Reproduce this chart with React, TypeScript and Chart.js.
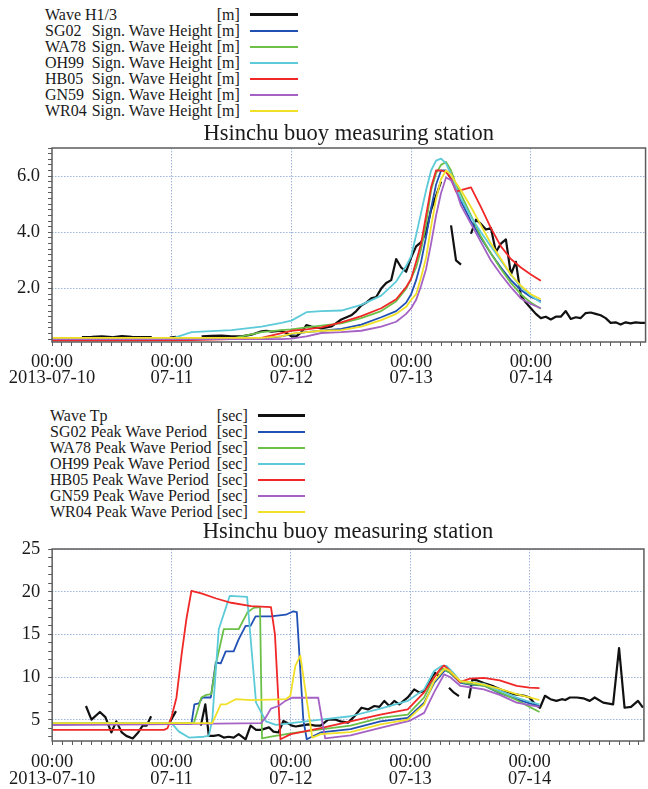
import React, { useEffect, useRef } from 'react';
import { Chart, registerables } from 'chart.js';

Chart.register(...registerables);

const SERIF = '"Liberation Serif", "Times New Roman", Times, serif';
const INK = '#1a1a1a';
const FRAME = '#5c5c5c';
const GRID = '#9fb5de';

// Time axis: hours counted from 2013-07-10 00:00
const HOUR_MAX = 119;
const DAY_TIME = '00:00';
const DAY_NAMES = ['2013-07-10', '07-11', '07-12', '07-13', '07-14'];

const STATION_TITLE = 'Hsinchu buoy measuring station';
const MODEL_IDS = ['SG02', 'WA78', 'OH99', 'HB05', 'GN59', 'WR04'];
const MODEL_COLORS = ['#2050b4', '#6cc048', '#5ccad8', '#f02828', '#a462c4', '#f0e028'];
const OBS_COLOR = '#111111';

// ---------- Significant wave height [m] ----------
const HEIGHT_LABELS = [2, 4, 6];

const heightHours = [0, 12, 24, 28, 36, 42, 46, 48, 51, 54, 58, 62, 66, 69, 71, 72, 73, 74, 75, 76, 77, 78, 79, 80, 81, 82, 84, 86, 88, 90, 92, 94, 96, 98];
const sg02Height = [0.2, 0.2, 0.2, 0.2, 0.2, 0.22, 0.3, 0.38, 0.45, 0.5, 0.57, 0.72, 0.98, 1.2, 1.5, 1.8, 2.3, 2.95, 3.85, 4.85, 5.7, 6.2, 6.2, 5.9, 5.5, 5.1, 4.4, 3.8, 3.25, 2.75, 2.3, 1.95, 1.7, 1.55];
const wa78Height = [0.2, 0.2, 0.2, 0.2, 0.22, 0.45, 0.52, 0.55, 0.62, 0.68, 0.76, 0.95, 1.2, 1.55, 2.0, 2.35, 2.75, 3.4, 4.3, 5.5, 6.1, 6.4, 6.5, 6.2, 5.7, 5.35, 4.6, 3.85, 3.25, 2.7, 2.2, 1.8, 1.5, 1.28];
const oh99Height = [0.2, 0.2, 0.22, 0.45, 0.52, 0.65, 0.78, 0.86, 1.16, 1.2, 1.22, 1.42, 1.75, 2.25, 2.8, 3.15, 3.9, 4.7, 5.5, 6.2, 6.55, 6.62, 6.45, 6.05, 5.6, 5.2, 4.55, 4.0, 3.5, 3.0, 2.5, 2.05, 1.75, 1.5];
const hb05Height = [0.15, 0.15, 0.16, 0.17, 0.2, 0.25, 0.42, 0.5, 0.55, 0.62, 0.8, 1.02, 1.3, 1.62, 2.05, 2.35, 2.95, 3.6, 4.6, 5.6, 6.2, 6.2, 6.15, 5.9, 5.45, 5.5, 5.6, 4.9, 4.15, 3.5, 3.05, 2.75, 2.5, 2.28];
const gn59Height = [0.2, 0.2, 0.2, 0.2, 0.2, 0.2, 0.2, 0.22, 0.3, 0.42, 0.45, 0.5, 0.65, 0.82, 1.1, 1.3, 1.6, 2.1, 2.7, 3.6, 4.6, 5.4, 5.95, 5.85, 5.5, 4.95, 4.3, 3.65, 3.0, 2.5, 2.05, 1.65, 1.45, 1.3];
const wr04Height = [0.25, 0.25, 0.25, 0.25, 0.25, 0.25, 0.3, 0.4, 0.45, 0.5, 0.52, 0.65, 0.88, 1.1, 1.35, 1.6, 1.8, 2.4, 3.1, 4.2, 5.2, 5.9, 6.2, 6.05, 5.75, 5.5, 4.9, 4.25, 3.6, 3.05, 2.5, 2.1, 1.8, 1.62];

const obsHeightHours = [
  6, 8, 10, 12, 14, 16, 18, 20, 21, 23.6, 24.9, 26, 30, 32, 34, 36, 38, 40, 42, 43, 44, 46, 47, 48, 49, 50, 51, 52, 54, 56, 58, 60,
  61, 62, 63, 64, 65, 66, 67, 68, 69, 70, 71, 72, 73, 74, 75, 76, 77, 78, 79, 80, 81, 82, 83, 84, 85, 86, 87, 88, 89, 90,
  91, 92, 93, 94, 95, 96, 97, 98, 99, 100, 101, 102, 103, 104, 105, 106, 107, 108, 109, 110, 111, 112, 113, 114, 115, 116, 117, 118, 119,
];
const obsHeight: (number | null)[] = [
  0.27, 0.28, 0.3, 0.27, 0.31, 0.28, 0.27, 0.27, null, 0.26, 0.28, null, 0.3, 0.32, 0.33, 0.3, 0.3, 0.36, 0.48, 0.5, 0.47, 0.5, 0.42, 0.3, 0.3, 0.45, 0.7, 0.65, 0.58, 0.65, 0.9, 1.05,
  1.2, 1.4, 1.5, 1.65, 1.7, 2.0, 2.2, 2.3, 3.05, 2.75, 2.6, 3.1, 3.5, 3.65, 4.0, 4.8, 5.3, 5.8, null, 4.25, 3.0, 2.85, null, 3.95, 4.45, 4.3, 4.1, 4.15, 3.3, 3.6,
  3.75, 2.5, 2.95, 1.75, 1.5, 1.3, 1.1, 0.95, 1.0, 0.9, 1.0, 1.0, 1.2, 0.92, 0.98, 0.95, 1.13, 1.15, 1.1, 1.05, 0.95, 0.78, 0.8, 0.72, 0.8, 0.76, 0.8, 0.78, 0.78,
];

// ---------- Peak wave period [sec] ----------
const PERIOD_LABELS = [5, 10, 15, 20, 25];

const sg02PeriodHours = [0, 28, 28.6, 29.5, 30.2, 31.9, 32.9, 33.9, 34.9, 36.5, 37.5, 38.9, 39.9, 40.9, 44, 47, 48.5, 49.2, 50.5, 51.2, 54, 60, 66, 71.5, 74.8, 76.8, 79, 80, 82.1, 84, 86.8, 90, 93.4, 96, 98];
const sg02Period = [4.5, 4.5, 6.8, 6.9, 7.6, 7.6, 11.7, 11.6, 13.0, 13.0, 14.4, 16.0, 16.0, 17.1, 17.1, 17.3, 17.7, 17.6, 5.0, 2.7, 3.5, 3.9, 4.8, 5.2, 7.0, 9.3, 10.8, 10.5, 9.3, 9.1, 9.0, 8.1, 7.4, 6.9, 6.6];

const wa78PeriodHours = [0, 28.5, 30, 31, 32, 33, 34.5, 37.5, 39.3, 40.5, 41.8, 42.2, 44, 48, 54, 60, 66, 71.5, 74.8, 76.8, 78.5, 80, 82.1, 84, 86.8, 90, 93.4, 96, 98];
const wa78Period = [4.6, 4.6, 7.6, 7.9, 8.0, 11.7, 15.6, 15.6, 17.6, 18.1, 18.2, 2.8, 3.0, 3.4, 3.85, 4.3, 5.2, 5.6, 7.6, 10.0, 11.0, 10.5, 9.4, 9.2, 9.0, 8.2, 7.3, 6.5, 5.9];

const oh99PeriodHours = [0, 24, 25.5, 27.5, 30.5, 31.5, 32.2, 33.5, 35.7, 39.2, 41, 43, 45, 48, 54, 60, 66, 71.5, 74.8, 76.8, 78.3, 79.3, 80.5, 82.1, 84, 86.8, 90, 93.4, 96, 98];
const oh99Period = [4.6, 4.6, 3.6, 2.9, 3.0, 3.1, 5.0, 15.6, 19.5, 19.4, 7.0, 4.8, 4.4, 4.6, 5.0, 5.4, 6.3, 7.2, 8.55, 10.7, 11.3, 11.3, 10.6, 9.5, 9.4, 9.2, 8.4, 7.6, 7.1, 6.8];

const hb05PeriodHours = [0, 22.5, 23.2, 24, 25, 26, 27, 28, 30, 33, 36, 40, 44, 44.8, 45.9, 48, 54, 60, 66, 71.5, 73, 74.8, 76, 77, 78, 78.8, 80, 82, 84, 86.8, 90, 93.4, 96, 98];
const hb05Period = [3.8, 3.8, 4.0, 5.3, 7.6, 12.5, 16.8, 20.1, 19.8, 19.2, 18.7, 18.3, 18.2, 15.0, 2.7, 3.3, 4.0, 4.8, 5.6, 6.2, 7.1, 8.2, 9.3, 10.1, 10.9, 11.35, 10.7, 9.4, 9.8, 9.9, 9.6, 8.95, 8.75, 8.7];

const gn59PeriodHours = [0, 20, 42, 43, 44, 45.5, 46.9, 48.2, 53.5, 54.9, 60, 66, 72, 74.8, 76.8, 78.8, 80, 82.1, 84, 86.8, 90, 93.4, 96, 98];
const gn59Period = [4.35, 4.45, 4.6, 5.3, 6.3, 6.6, 7.2, 7.57, 7.57, 2.8, 3.15, 4.05, 4.9, 5.8, 8.2, 10.3, 10.0, 8.95, 8.8, 8.55, 7.9, 7.0, 6.7, 6.5];

const wr04PeriodHours = [0, 32.2, 33.9, 35, 36.9, 40, 44, 47, 47.9, 48.9, 49.9, 52.3, 54, 60, 66, 71.5, 74.8, 76.8, 79, 80, 82.1, 84, 86.8, 90, 93.4, 96, 98];
const wr04Period = [4.6, 4.6, 6.8, 6.8, 7.4, 7.3, 7.35, 7.4, 7.8, 11.3, 12.5, 2.9, 3.3, 3.55, 4.45, 5.0, 6.8, 9.5, 11.0, 10.7, 9.5, 9.4, 9.1, 8.6, 8.0, 7.6, 7.3];

const obsPeriodHours = [
  6.8, 7.9, 9.6, 10.7, 11.9, 12.9, 14, 14.9, 16.2, 17.3, 18.2, 19, 19.9, 20.5, 23.6, 24.9, 26, 29.9, 30.8, 31.5,
  32.5, 33.5, 34.5, 35.5, 36.5, 37.5, 38.9, 39.9, 41, 42, 43.6, 44.5, 45.5, 46.5, 47.3, 48.2, 49, 50, 51.5, 52.9,
  54, 55.5, 57, 58, 59.5, 60.8, 62.2, 63.5, 64.8, 65.8, 66.8, 67.8, 68.8, 69.8, 71.5, 72.8, 73.8, 74.8, 76, 77,
  78, 79, 79.8, 80.8, 81.8, 83, 83.8, 84.5, 85.5, 86.8, 88.8, 90.8, 92.8, 95, 96, 97.1, 98.1, 99.1, 100.2, 101.4,
  102.5, 103.2, 104.1, 105.5, 106.8, 108.1, 109.1, 110.8, 112.8, 114, 115.1, 116.4, 117.8, 118.8,
];
const obsPeriod: (number | null)[] = [
  6.6, 5.0, 5.9, 5.3, 3.5, 4.8, 3.5, 3.1, 2.8, 3.5, 4.3, 4.3, 5.4, null, 4.65, 6.0, null, 4.3, 6.8, 3.1,
  3.1, 3.2, 2.9, 3.0, 2.9, 3.3, 2.7, 4.3, 3.8, 3.8, 4.1, 3.6, 3.5, 4.85, 4.6, 4.3, 4.2, 4.3, 4.45, 4.3,
  4.3, 5.0, 5.0, 4.8, 4.65, 5.4, 6.4, 6.2, 6.6, 6.5, 7.2, 6.6, 7.2, 6.8, 7.6, 8.55, 8.2, 8.35, 9.5, 10.5,
  10.0, null, 8.74, 8.16, 7.76, null, 7.5, 9.7, 9.6, 9.3, 8.9, 8.4, 8.0, 7.8, 7.6, 6.8, 6.4, 7.8, 7.4, 7.2,
  7.4, 7.3, 7.6, 7.6, 7.5, 7.2, 7.6, 7.0, 6.8, 13.4, 6.4, 6.5, 7.2, 6.4,
];

type Series = {
  label: string;
  color: string;
  width: number;
  order: number;
  hours: number[];
  values: (number | null)[];
};

const OBS_WIDTH = 2.2;
const MODEL_WIDTH = 1.8;

function modelSeries(hoursList: number[][], valueList: number[][], suffix: string): Series[] {
  return MODEL_IDS.map((id, i) => ({
    label: `${id} ${suffix}`,
    color: MODEL_COLORS[i],
    width: MODEL_WIDTH,
    order: MODEL_IDS.length - 1 - i,
    hours: hoursList[i],
    values: valueList[i],
  }));
}

const heightSeries: Series[] = [
  { label: 'Wave H1/3', color: OBS_COLOR, width: OBS_WIDTH, order: 10, hours: obsHeightHours, values: obsHeight },
  ...modelSeries(
    MODEL_IDS.map(() => heightHours),
    [sg02Height, wa78Height, oh99Height, hb05Height, gn59Height, wr04Height],
    'Sign. Wave Height',
  ),
];

const periodSeries: Series[] = [
  { label: 'Wave Tp', color: OBS_COLOR, width: OBS_WIDTH, order: 10, hours: obsPeriodHours, values: obsPeriod },
  ...modelSeries(
    [sg02PeriodHours, wa78PeriodHours, oh99PeriodHours, hb05PeriodHours, gn59PeriodHours, wr04PeriodHours],
    [sg02Period, wa78Period, oh99Period, hb05Period, gn59Period, wr04Period],
    'Peak Wave Period',
  ),
];

// Closed box around the plotting area
const framePlugin = {
  id: 'plotFrame',
  afterDraw(chart: any) {
    const { ctx, chartArea: a } = chart;
    ctx.save();
    ctx.strokeStyle = FRAME;
    ctx.lineWidth = 1.5;
    ctx.strokeRect(a.left, a.top, a.right - a.left, a.bottom - a.top);
    ctx.restore();
  },
};

type PanelProps = {
  top: number;
  height: number;
  titlePad: { top: number; bottom: number };
  tickPad: number;
  yMin: number;
  yMax: number;
  yStep: number;
  yLabels: number[];
  yFormat: (v: number) => string;
  series: Series[];
};

function PlotPanel(p: PanelProps) {
  const ref = useRef<HTMLCanvasElement | null>(null);

  useEffect(() => {
    if (!ref.current) return;

    const xTicks: number[] = [];
    for (let h = 0; h < HOUR_MAX; h += 2) xTicks.push(h);

    const yTicks: number[] = [];
    const k0 = Math.ceil(p.yMin / p.yStep - 1e-9);
    const k1 = Math.floor(p.yMax / p.yStep + 1e-9);
    for (let k = k0; k <= k1; k++) yTicks.push(Math.round(k * p.yStep * 1e6) / 1e6);

    const isDay = (v: number) => Math.abs(v % 24) < 1e-6;
    const isYLabel = (v: number) => p.yLabels.some((l) => Math.abs(l - v) < 1e-6);
    const tickFont = { family: SERIF, size: 18.5, lineHeight: 0.9 };

    const chart = new Chart(ref.current, {
      type: 'line',
      data: {
        datasets: p.series.map((s) => ({
          label: s.label,
          data: s.hours.map((h, i) => ({ x: h, y: s.values[i] })),
          borderColor: s.color,
          backgroundColor: s.color,
          borderWidth: s.width,
          pointRadius: 0,
          pointHoverRadius: 0,
          tension: 0,
          spanGaps: false,
          fill: false,
          order: s.order,
          borderJoinStyle: 'round',
        })) as any,
      },
      options: {
        animation: false,
        responsive: false,
        maintainAspectRatio: false,
        events: [],
        layout: { padding: { left: 0, right: 1, top: 0, bottom: 0 } },
        plugins: {
          legend: { display: false },
          tooltip: { enabled: false },
          title: {
            display: true,
            text: STATION_TITLE,
            color: INK,
            fullSize: false,
            font: { family: SERIF, size: 22.5, lineHeight: 1, weight: 'normal' },
            padding: p.titlePad,
          },
        },
        scales: {
          x: {
            type: 'linear',
            min: 0,
            max: HOUR_MAX,
            afterBuildTicks: (s: any) => {
              s.ticks = xTicks.map((v) => ({ value: v }));
            },
            afterFit: (s: any) => {
              s.height = 48;
            },
            ticks: {
              autoSkip: false,
              maxRotation: 0,
              minRotation: 0,
              padding: p.tickPad,
              color: INK,
              font: tickFont,
              callback: (v: any) => {
                const n = Number(v);
                if (!isDay(n)) return '';
                return [DAY_TIME, DAY_NAMES[Math.round(n / 24)]];
              },
            },
            grid: {
              color: (c: any) => (c.tick && c.tick.value > 0 && isDay(c.tick.value) ? GRID : 'rgba(0,0,0,0)'),
              lineWidth: 1,
              tickLength: 4,
              tickColor: FRAME,
              tickWidth: 1,
              drawTicks: true,
            },
            border: { display: false, dash: [1.5, 1.5] },
          },
          y: {
            type: 'linear',
            min: p.yMin,
            max: p.yMax,
            afterBuildTicks: (s: any) => {
              s.ticks = yTicks.map((v) => ({ value: v }));
            },
            afterFit: (s: any) => {
              s.width = 52;
            },
            ticks: {
              autoSkip: false,
              padding: 8,
              color: INK,
              font: { family: SERIF, size: 18.5, lineHeight: 1.2 },
              callback: (v: any) => (isYLabel(Number(v)) ? p.yFormat(Number(v)) : ''),
            },
            grid: {
              color: (c: any) => (c.tick && isYLabel(c.tick.value) ? GRID : 'rgba(0,0,0,0)'),
              lineWidth: 1,
              tickLength: 4,
              tickColor: FRAME,
              tickWidth: 1,
              drawTicks: true,
            },
            border: { display: false, dash: [1.5, 1.5] },
          },
        },
      } as any,
      plugins: [framePlugin],
    });

    return () => chart.destroy();
  }, []);

  return (
    <canvas
      ref={ref}
      width={648}
      height={p.height}
      style={{ position: 'absolute', left: 0, top: p.top, width: 648, height: p.height, display: 'block' }}
    />
  );
}

type LegendRow = { name: string; desc?: string; unit: string; color: string; thick: number };

function LegendBlock(props: {
  top: number;
  rows: LegendRow[];
  nameX: number;
  descX: number;
  unitX: number;
  lineX1: number;
  lineX2: number;
}) {
  const { top, rows, nameX, descX, unitX, lineX1, lineX2 } = props;
  return (
    <>
      {rows.map((r, i) => {
        const cy = top + i * 16;
        return (
          <div
            key={r.name}
            style={{ position: 'absolute', left: 0, top: cy - 8, width: 648, height: 16, fontSize: 16, lineHeight: '16px', whiteSpace: 'pre' }}
          >
            <span style={{ position: 'absolute', left: nameX, top: 0 }}>{r.name}</span>
            {r.desc ? <span style={{ position: 'absolute', left: descX, top: 0 }}>{r.desc}</span> : null}
            <span style={{ position: 'absolute', left: unitX, top: 0 }}>{r.unit}</span>
            <div
              style={{ position: 'absolute', left: lineX1, width: lineX2 - lineX1, top: 8 - r.thick / 2, height: r.thick, background: r.color }}
            />
          </div>
        );
      })}
    </>
  );
}

const heightLegend: LegendRow[] = [
  { name: 'Wave H1/3', unit: '[m]', color: OBS_COLOR, thick: 2.6 },
  ...MODEL_IDS.map((id, i) => ({ name: id, desc: 'Sign. Wave Height', unit: '[m]', color: MODEL_COLORS[i], thick: 2 })),
];

const periodLegend: LegendRow[] = [
  { name: 'Wave Tp', unit: '[sec]', color: OBS_COLOR, thick: 2.6 },
  ...MODEL_IDS.map((id, i) => ({ name: `${id} Peak Wave Period`, unit: '[sec]', color: MODEL_COLORS[i], thick: 2 })),
];

export default function App() {
  return (
    <div
      style={{ position: 'absolute', left: 0, top: 0, width: 648, height: 789, background: '#ffffff', fontFamily: SERIF, color: INK, overflow: 'hidden' }}
    >
      <LegendBlock top={14.5} rows={heightLegend} nameX={45} descX={91.7} unitX={216.7} lineX1={250} lineX2={298} />
      <PlotPanel
        top={120}
        height={270}
        titlePad={{ top: 2.85, bottom: 2.65 }}
        tickPad={7.4}
        yMin={0.1}
        yMax={7.0}
        yStep={0.2}
        yLabels={HEIGHT_LABELS}
        yFormat={(v) => v.toFixed(1)}
        series={heightSeries}
      />
      <LegendBlock top={415.7} rows={periodLegend} nameX={50} descX={50} unitX={216.7} lineX1={258} lineX2={305} />
      <PlotPanel
        top={518}
        height={271}
        titlePad={{ top: 3.15, bottom: 5.35 }}
        tickPad={9}
        yMin={2.5}
        yMax={25}
        yStep={1}
        yLabels={PERIOD_LABELS}
        yFormat={(v) => String(Math.round(v))}
        series={periodSeries}
      />
    </div>
  );
}
